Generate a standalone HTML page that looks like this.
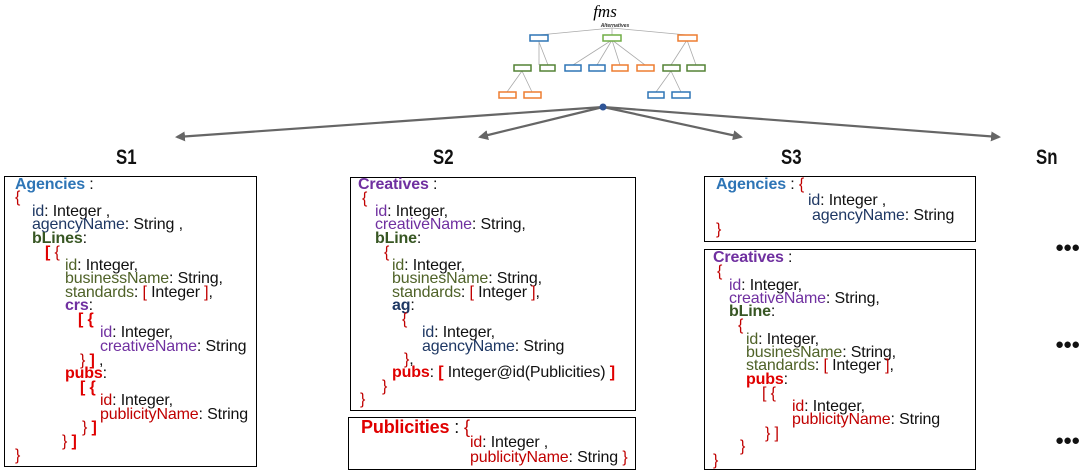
<!DOCTYPE html>
<html><head><meta charset="utf-8"><style>
body{margin:0;width:1087px;height:473px;background:#fff;position:relative;overflow:hidden;font-family:"Liberation Sans",sans-serif;}
.bx{position:absolute;border:1.5px solid #000;box-sizing:border-box;}
.l{position:absolute;font-size:16px;line-height:14px;white-space:nowrap;color:#111;letter-spacing:-0.15px;}
.h{position:absolute;font-size:21px;font-weight:bold;color:#111;transform:scaleX(0.8);transform-origin:left;}
.b{color:#2E75B6;font-weight:bold}
.p{color:#7030A0}
.pb{color:#7030A0;font-weight:bold}
.g{color:#4F6228}
.gb{color:#375623;font-weight:bold}
.r{color:#C00000}
.rb{color:#E00000;font-weight:bold}
.n{color:#1F3864}
.nb{color:#1F3864;font-weight:bold}
.dots{position:absolute;font-size:15px;font-weight:bold;letter-spacing:-1px;color:#111}
</style></head><body>
<svg width="1087" height="473" style="position:absolute;left:0;top:0">
<defs><marker id="a" markerWidth="10" markerHeight="10" refX="8" refY="5" orient="auto" markerUnits="userSpaceOnUse"><path d="M0,0 L10,5 L0,10 z" fill="#666"/></marker></defs>
<text x="605" y="17" font-family="Liberation Serif" font-style="italic" font-size="17" text-anchor="middle">fms</text>
<text x="615" y="27" font-family="Liberation Sans" font-style="italic" font-weight="bold" font-size="5" text-anchor="middle" fill="#333">Alternatives</text>
<g stroke="#aaa" stroke-width="0.8" fill="none">
<path d="M539,35 L612,28 L687,35 M612,28 L612,35"/>
<path d="M539,40 L539,65 M539,42 L548,65 M612,40 L573,65 M612,40 L597,65 M612,40 L620,65 M612,40 L645,65 M687,40 L671,65 M687,40 L696,65 M522,71 L507,92 M522,71 L532,92 M671,71 L656,92 M671,71 L681,92"/>
</g>
<g fill="#fff" stroke-width="1.5">
<rect x="530" y="35" width="18" height="6" stroke="#2E75B6"/>
<rect x="603" y="35" width="18" height="6" stroke="#70AD47"/>
<rect x="678" y="35" width="19" height="6" stroke="#ED7D31"/>
<rect x="514" y="65" width="17" height="6" stroke="#548235"/>
<rect x="540" y="65" width="15" height="6" stroke="#548235"/>
<rect x="565" y="65" width="16" height="6" stroke="#2E75B6"/>
<rect x="589" y="65" width="16" height="6" stroke="#2E75B6"/>
<rect x="612" y="65" width="16" height="6" stroke="#ED7D31"/>
<rect x="637" y="65" width="17" height="6" stroke="#ED7D31"/>
<rect x="663" y="65" width="17" height="6" stroke="#548235"/>
<rect x="687" y="65" width="18" height="6" stroke="#548235"/>
<rect x="499" y="92" width="17" height="6" stroke="#ED7D31"/>
<rect x="524" y="92" width="17" height="6" stroke="#ED7D31"/>
<rect x="648" y="92" width="16" height="6" stroke="#2E75B6"/>
<rect x="672" y="92" width="18" height="6" stroke="#2E75B6"/>
</g>
<g stroke="#666" stroke-width="2.2" marker-end="url(#a)">
<line x1="603" y1="107" x2="177" y2="137"/>
<line x1="603" y1="107" x2="480" y2="137"/>
<line x1="603" y1="107" x2="741" y2="137"/>
<line x1="603" y1="107" x2="999" y2="137"/>
</g>
<circle cx="603" cy="107" r="3.5" fill="#2F5597"/>
</svg>

<div class="h" style="left:116px;top:146px">S1</div>
<div class="h" style="left:433px;top:146px">S2</div>
<div class="h" style="left:781px;top:146px">S3</div>
<div class="h" style="left:1036px;top:146px">Sn</div>

<div class="bx" style="left:4px;top:176px;width:253px;height:291px"></div>
<div class="l" style="left:15px;top:178px"><span class="b">Agencies</span> :</div>
<div class="l r" style="left:15px;top:191px">{</div>
<div class="l" style="left:32px;top:205px"><span class="n">id</span>: Integer ,</div>
<div class="l" style="left:32px;top:218px"><span class="n">agencyName</span>: String ,</div>
<div class="l" style="left:32px;top:232px"><span class="gb">bLines</span>:</div>
<div class="l rb" style="left:45px;top:246px">[ <span class="r" style="font-weight:normal">{</span></div>
<div class="l" style="left:65px;top:259px"><span class="g">id</span>: Integer,</div>
<div class="l" style="left:65px;top:272px"><span class="g">businessName</span>: String,</div>
<div class="l" style="left:65px;top:286px"><span class="g">standards</span>: <span class="r">[</span> Integer <span class="r">]</span>,</div>
<div class="l" style="left:65px;top:299px"><span class="pb">crs</span>:</div>
<div class="l rb" style="left:78px;top:313px">[ {</div>
<div class="l" style="left:100px;top:326px"><span class="p">id</span>: Integer,</div>
<div class="l" style="left:100px;top:340px"><span class="p">creativeName</span>: String</div>
<div class="l" style="left:80px;top:354px"><span class="r">}</span> <span class="rb">]</span> ,</div>
<div class="l" style="left:65px;top:367px"><span class="rb">pubs</span>:</div>
<div class="l rb" style="left:80px;top:381px">[ {</div>
<div class="l" style="left:100px;top:394px"><span class="r">id</span>: Integer,</div>
<div class="l" style="left:100px;top:408px"><span class="r">publicityName</span>: String</div>
<div class="l" style="left:82px;top:421px"><span class="r">}</span> <span class="rb">]</span></div>
<div class="l" style="left:62px;top:435px"><span class="r">}</span> <span class="rb">]</span></div>
<div class="l r" style="left:15px;top:449px">}</div>

<div class="bx" style="left:350px;top:177px;width:286px;height:234px"></div>
<div class="l" style="left:358px;top:178px"><span class="pb">Creatives</span> :</div>
<div class="l r" style="left:362px;top:192px">{</div>
<div class="l" style="left:375px;top:205px"><span class="p">id</span>: Integer,</div>
<div class="l" style="left:375px;top:218px"><span class="p">creativeName</span>: String,</div>
<div class="l" style="left:375px;top:232px"><span class="gb">bLine</span>:</div>
<div class="l r" style="left:384px;top:246px">{</div>
<div class="l" style="left:392px;top:259px"><span class="g">id</span>: Integer,</div>
<div class="l" style="left:392px;top:272px"><span class="g">businesName</span>: String,</div>
<div class="l" style="left:392px;top:286px"><span class="g">standards</span>: <span class="r">[</span> Integer <span class="r">]</span>,</div>
<div class="l" style="left:392px;top:299px"><span class="nb">ag</span>:</div>
<div class="l r" style="left:402px;top:313px">{</div>
<div class="l" style="left:422px;top:326px"><span class="n">id</span>: Integer,</div>
<div class="l" style="left:422px;top:340px"><span class="n">agencyName</span>: String</div>
<div class="l" style="left:404px;top:353px"><span class="r">}</span>,</div>
<div class="l" style="left:392px;top:366px"><span class="rb">pubs</span>: <span class="rb">[</span> Integer@id(Publicities) <span class="rb">]</span></div>
<div class="l r" style="left:382px;top:380px">}</div>
<div class="l r" style="left:360px;top:393px">}</div>

<div class="bx" style="left:348px;top:417px;width:288px;height:53px"></div>
<div class="l" style="left:361px;top:419px;font-size:18px;line-height:16px"><span class="rb">Publicities</span> : <span class="r">{</span></div>
<div class="l" style="left:470px;top:436px"><span class="r">id</span>: Integer ,</div>
<div class="l" style="left:470px;top:451px"><span class="r">publicityName</span>: String <span class="r">}</span></div>

<div class="bx" style="left:704px;top:176px;width:272px;height:66px"></div>
<div class="l" style="left:716px;top:178px"><span class="b">Agencies</span> : <span class="r">{</span></div>
<div class="l" style="left:808px;top:194px"><span class="n">id</span>: Integer ,</div>
<div class="l" style="left:812px;top:209px"><span class="n">agencyName</span>: String</div>
<div class="l r" style="left:716px;top:223px">}</div>

<div class="bx" style="left:704px;top:249px;width:272px;height:221px"></div>
<div class="l" style="left:713px;top:251px"><span class="pb">Creatives</span> :</div>
<div class="l r" style="left:717px;top:265px">{</div>
<div class="l" style="left:729px;top:279px"><span class="p">id</span>: Integer,</div>
<div class="l" style="left:729px;top:292px"><span class="p">creativeName</span>: String,</div>
<div class="l" style="left:729px;top:305px"><span class="gb">bLine</span>:</div>
<div class="l r" style="left:738px;top:319px">{</div>
<div class="l" style="left:746px;top:333px"><span class="g">id</span>: Integer,</div>
<div class="l" style="left:746px;top:346px"><span class="g">businesName</span>: String,</div>
<div class="l" style="left:746px;top:359px"><span class="g">standards</span>: <span class="r">[</span> Integer <span class="r">]</span>,</div>
<div class="l" style="left:746px;top:373px"><span class="rb">pubs</span>:</div>
<div class="l r" style="left:762px;top:387px">[ {</div>
<div class="l" style="left:792px;top:400px"><span class="r">id</span>: Integer,</div>
<div class="l" style="left:792px;top:413px"><span class="r">publicityName</span>: String</div>
<div class="l r" style="left:765px;top:427px">} ]</div>
<div class="l r" style="left:740px;top:440px">}</div>
<div class="l r" style="left:713px;top:454px">}</div>

<div class="dots" style="left:1055px;top:239px">●●●</div>
<div class="dots" style="left:1055px;top:336px">●●●</div>
<div class="dots" style="left:1055px;top:432px">●●●</div>
</body></html>
